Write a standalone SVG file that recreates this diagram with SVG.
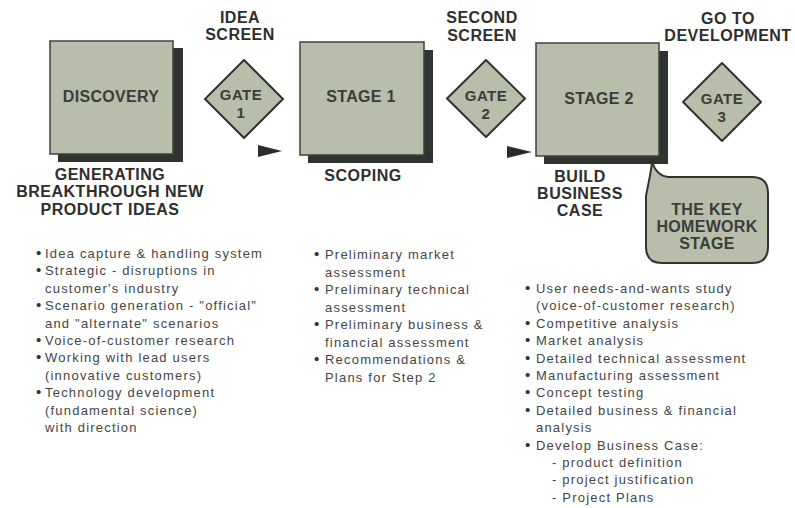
<svg xmlns="http://www.w3.org/2000/svg" width="795" height="508" viewBox="0 0 795 508">
  <style>
    .box { fill: #b8bea9; stroke: #3e423c; stroke-width: 1.5; }
    .shadow { fill: #2f342f; }
    .gate { fill: #b8bea9; stroke: #2f342f; stroke-width: 2; stroke-linejoin: round; }
    .head { font-family: "Liberation Sans", Arial, sans-serif; font-weight: bold; font-size: 16px; fill: #2e2e2e; text-anchor: middle; letter-spacing: 0.5px; }
    .inbox { font-family: "Liberation Sans", Arial, sans-serif; font-weight: bold; font-size: 16px; fill: #3a3d38; text-anchor: middle; letter-spacing: 0.3px; }
    .gtxt { font-family: "Liberation Sans", Arial, sans-serif; font-weight: bold; font-size: 15px; fill: #3a3d38; text-anchor: middle; letter-spacing: 0.5px; }
    .list { font-family: "Liberation Sans", Arial, sans-serif; font-size: 13px; fill: #454545; letter-spacing: 1.2px; }
    .dot { font-family: "Liberation Sans", Arial, sans-serif; font-size: 15px; fill: #333333; }
    .arrow { fill: #2a2d2a; }
  </style>

  <rect width="795" height="508" fill="#ffffff"/>

  <!-- Discovery -->
  <g id="discovery">
    <rect class="shadow" x="58" y="48" width="125" height="114"/>
    <rect class="box" x="50" y="41" width="123" height="113"/>
    <text class="inbox" x="111" y="102">DISCOVERY</text>
    <text class="head" x="110" y="180">GENERATING</text>
    <text class="head" x="110" y="197">BREAKTHROUGH NEW</text>
    <text class="head" x="110" y="215">PRODUCT IDEAS</text>
  </g>

  <!-- Gate 1 -->
  <g id="gate1">
    <text class="head" x="240" y="23">IDEA</text>
    <text class="head" x="240" y="40">SCREEN</text>
    <polygon class="gate" points="244,60 283,99 244,138 205,99"/>
    <text class="gtxt" x="241" y="100">GATE</text>
    <text class="gtxt" x="241" y="118">1</text>
  </g>

  <!-- Stage 1 -->
  <g id="stage1">
    <rect class="shadow" x="308" y="50" width="125" height="113"/>
    <rect class="box" x="300" y="42" width="124" height="113"/>
    <text class="inbox" x="361" y="102">STAGE 1</text>
    <text class="head" x="363" y="181">SCOPING</text>
  </g>

  <!-- Gate 2 -->
  <g id="gate2">
    <text class="head" x="482" y="23">SECOND</text>
    <text class="head" x="482" y="41">SCREEN</text>
    <polygon class="gate" points="486,60 525,98.5 486,137 447,98.5"/>
    <text class="gtxt" x="486" y="101">GATE</text>
    <text class="gtxt" x="486" y="119">2</text>
  </g>

  <!-- Stage 2 -->
  <g id="stage2">
    <rect class="shadow" x="544" y="51" width="124" height="113"/>
    <rect class="box" x="536" y="43" width="123" height="113"/>
    <text class="inbox" x="599" y="104">STAGE 2</text>
    <text class="head" x="580" y="182">BUILD</text>
    <text class="head" x="580" y="199">BUSINESS</text>
    <text class="head" x="580" y="216">CASE</text>
  </g>

  <!-- Gate 3 -->
  <g id="gate3">
    <text class="head" x="728" y="24">GO TO</text>
    <text class="head" x="728" y="41">DEVELOPMENT</text>
    <polygon class="gate" points="722,63 761,102 722,141 683,102"/>
    <text class="gtxt" x="722" y="104">GATE</text>
    <text class="gtxt" x="722" y="122">3</text>
  </g>

  <!-- Callout on Stage 2 -->
  <g id="homework-callout">
    <path class="gate" d="M652,162 C655,171 660,176 668,177 L752,177 Q768,177 768,193 L768,247 Q768,263 752,263 L662,263 Q646,263 646,247 L646,196 C648,185 651,173 652,162 Z"/>
    <text class="inbox" x="707" y="215">THE KEY</text>
    <text class="inbox" x="707" y="232">HOMEWORK</text>
    <text class="inbox" x="707" y="249">STAGE</text>
  </g>

  <!-- Flow arrowheads -->
  <g id="connectors">
    <polygon class="arrow" points="258,145 282,151 258,157"/>
    <polygon class="arrow" points="507,146 532,152 507,158"/>
  </g>

  <!-- Discovery activities -->
  <g id="discovery-list" class="list">
    <text class="dot" x="36" y="258">•</text><text x="45" y="258">Idea capture &amp; handling system</text>
    <text class="dot" x="36" y="275.4">•</text><text x="45" y="275.4">Strategic - disruptions in</text>
    <text x="45" y="292.8">customer's industry</text>
    <text class="dot" x="36" y="310.2">•</text><text x="45" y="310.2">Scenario generation - "official"</text>
    <text x="45" y="327.6">and "alternate" scenarios</text>
    <text class="dot" x="36" y="345">•</text><text x="45" y="345">Voice-of-customer research</text>
    <text class="dot" x="36" y="362.4">•</text><text x="45" y="362.4">Working with lead users</text>
    <text x="45" y="379.8">(innovative customers)</text>
    <text class="dot" x="36" y="397.2">•</text><text x="45" y="397.2">Technology development</text>
    <text x="45" y="414.6">(fundamental science)</text>
    <text x="45" y="432">with direction</text>
  </g>

  <!-- Stage 1 activities -->
  <g id="stage1-list" class="list">
    <text class="dot" x="314" y="259">•</text><text x="325" y="259">Preliminary market</text>
    <text x="325" y="276.5">assessment</text>
    <text class="dot" x="314" y="294">•</text><text x="325" y="294">Preliminary technical</text>
    <text x="325" y="311.5">assessment</text>
    <text class="dot" x="314" y="329">•</text><text x="325" y="329">Preliminary business &amp;</text>
    <text x="325" y="346.5">financial assessment</text>
    <text class="dot" x="314" y="364">•</text><text x="325" y="364">Recommendations &amp;</text>
    <text x="325" y="381.5">Plans for Step 2</text>
  </g>

  <!-- Stage 2 activities -->
  <g id="stage2-list" class="list">
    <text class="dot" x="525" y="293">•</text><text x="536" y="293">User needs-and-wants study</text>
    <text x="536" y="310.4">(voice-of-customer research)</text>
    <text class="dot" x="525" y="327.8">•</text><text x="536" y="327.8">Competitive analysis</text>
    <text class="dot" x="525" y="345.2">•</text><text x="536" y="345.2">Market analysis</text>
    <text class="dot" x="525" y="362.6">•</text><text x="536" y="362.6">Detailed technical assessment</text>
    <text class="dot" x="525" y="380">•</text><text x="536" y="380">Manufacturing assessment</text>
    <text class="dot" x="525" y="397.4">•</text><text x="536" y="397.4">Concept testing</text>
    <text class="dot" x="525" y="414.8">•</text><text x="536" y="414.8">Detailed business &amp; financial</text>
    <text x="536" y="432.2">analysis</text>
    <text class="dot" x="525" y="449.6">•</text><text x="536" y="449.6">Develop Business Case:</text>
    <text x="552" y="467">- product definition</text>
    <text x="552" y="484.4">- project justification</text>
    <text x="552" y="501.8">- Project Plans</text>
  </g>
</svg>
